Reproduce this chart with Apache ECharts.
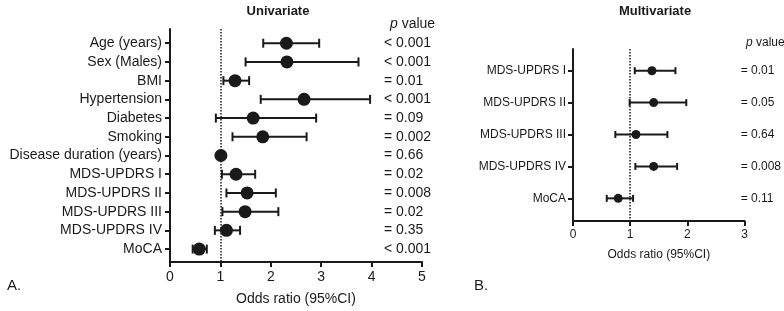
<!DOCTYPE html>
<html>
<head>
<meta charset="utf-8">
<script src="https://cdn.jsdelivr.net/npm/echarts@6/dist/echarts.min.js"></script>
<style>
  html, body { margin: 0; padding: 0; background: #fff; }
  #chart { width: 784px; height: 311px; }
</style>
</head>
<body>
<div id="chart"></div>
<script>
// Univariate (panel A)
const uniLabels = ['Age (years)', 'Sex (Males)', 'BMI', 'Hypertension', 'Diabetes', 'Smoking',
  'Disease duration (years)', 'MDS-UPDRS I', 'MDS-UPDRS II', 'MDS-UPDRS III', 'MDS-UPDRS IV', 'MoCA']
const uniOR = [2.31, 2.32, 1.29, 2.66, 1.65, 1.84, 1.01, 1.31, 1.53, 1.49, 1.12, 0.58]
const uniLow = [1.85, 1.50, 1.06, 1.80, 0.91, 1.24, 0.99, 1.03, 1.12, 1.04, 0.89, 0.45]
const uniHigh = [2.96, 3.74, 1.57, 3.97, 2.90, 2.71, 1.03, 1.69, 2.10, 2.15, 1.39, 0.73]
const uniP = ['< 0.001', '< 0.001', '= 0.01', '< 0.001', '= 0.09', '= 0.002',
  '= 0.66', '= 0.02', '= 0.008', '= 0.02', '= 0.35', '< 0.001']

// Multivariate (panel B)
const multiLabels = ['MDS-UPDRS I', 'MDS-UPDRS II', 'MDS-UPDRS III', 'MDS-UPDRS IV', 'MoCA']
const multiOR = [1.38, 1.41, 1.10, 1.41, 0.79]
const multiLow = [1.08, 0.99, 0.74, 1.09, 0.59]
const multiHigh = [1.79, 1.98, 1.65, 1.82, 1.05]
const multiP = ['= 0.01', '= 0.05', '= 0.64', '= 0.008', '= 0.11']

const font = 'Liberation Sans, Arial, sans-serif'
const ink = '#1a1a1a'

const chart = echarts.init(document.getElementById('chart'))

const rowIdx = (arr) => arr.map((_, i) => i)

// error bar with end caps, drawn through the axis scales
const whisker = (capHalf) => (params, api) => {
  const y = api.value(0)
  const a = api.coord([api.value(1), y])
  const b = api.coord([api.value(2), y])
  const st = { stroke: ink, lineWidth: 2 }
  return {
    type: 'group',
    children: [
      { type: 'line', shape: { x1: a[0], y1: a[1], x2: b[0], y2: b[1] }, style: st },
      { type: 'line', shape: { x1: a[0], y1: a[1] - capHalf, x2: a[0], y2: a[1] + capHalf }, style: st },
      { type: 'line', shape: { x1: b[0], y1: b[1] - capHalf, x2: b[0], y2: b[1] + capHalf }, style: st },
    ],
  }
}

const xAxisBase = (max, fs, gap) => ({
  type: 'value',
  min: 0,
  max: max,
  interval: 1,
  splitLine: { show: false },
  axisLine: { onZero: false, lineStyle: { color: ink, width: 2 } },
  axisTick: { length: 5, lineStyle: { color: ink, width: 2 } },
  axisLabel: { color: ink, fontSize: fs, fontFamily: font, margin: 8 },
  name: 'Odds ratio (95%CI)',
  nameLocation: 'middle',
  nameGap: gap,
  nameTextStyle: { color: ink, fontSize: fs, fontFamily: font },
})

const yLabelAxis = (grid, min, max, labels, fs, margin) => ({
  gridIndex: grid, type: 'value', inverse: true, min: min, max: max,
  splitLine: { show: false },
  axisLine: { onZero: false, lineStyle: { color: ink, width: 2 } },
  axisTick: { length: 5, lineStyle: { color: ink, width: 2 }, customValues: rowIdx(labels) },
  axisLabel: { color: ink, fontSize: fs, fontFamily: font, margin: margin,
    customValues: rowIdx(labels), formatter: (v) => labels[v] },
})

const yPAxis = (grid, min, max, pvals, fs, offset) => ({
  gridIndex: grid, type: 'value', inverse: true, min: min, max: max,
  position: 'right', offset: offset,
  splitLine: { show: false },
  axisLine: { show: false, onZero: false },
  axisTick: { show: false },
  axisLabel: { color: ink, fontSize: fs, fontFamily: font, margin: 0,
    customValues: rowIdx(pvals), formatter: (v) => pvals[v] },
})

const option = {
  animation: false,
  backgroundColor: '#fff',
  textStyle: { fontFamily: font },
  title: [
    { text: 'Univariate', left: 273, top: 0, textAlign: 'center',
      textStyle: { fontSize: 13, fontWeight: 'bold', color: ink, fontFamily: font } },
    { text: 'Multivariate', left: 650, top: 0, textAlign: 'center',
      textStyle: { fontSize: 13, fontWeight: 'bold', color: ink, fontFamily: font } },
    { text: '{i|p} value', left: 385, top: 12,
      textStyle: { fontSize: 14, fontWeight: 'normal', color: ink, fontFamily: font,
        rich: { i: { fontStyle: 'italic', fontSize: 14, color: ink, fontFamily: font } } } },
    { text: '{i|p} value', left: 741, top: 32,
      textStyle: { fontSize: 12, fontWeight: 'normal', color: ink, fontFamily: font,
        rich: { i: { fontStyle: 'italic', fontSize: 12, color: ink, fontFamily: font } } } },
    { text: 'A.', left: 2, top: 273,
      textStyle: { fontSize: 15, fontWeight: 'normal', color: ink, fontFamily: font } },
    { text: 'B.', left: 469, top: 273,
      textStyle: { fontSize: 15, fontWeight: 'normal', color: ink, fontFamily: font } },
  ],
  grid: [
    { left: 170, top: 29, width: 252, height: 234 },
    { left: 573, top: 49, width: 172, height: 172 },
  ],
  xAxis: [
    Object.assign(xAxisBase(5, 14, 30), { gridIndex: 0 }),
    Object.assign(xAxisBase(3, 12, 28), { gridIndex: 1 }),
  ],
  yAxis: [
    yLabelAxis(0, -0.76, 11.69, uniLabels, 14, 8),
    yPAxis(0, -0.76, 11.69, uniP, 14, -38),
    yLabelAxis(1, -0.68, 4.71, multiLabels, 12, 7),
    yPAxis(1, -0.68, 4.71, multiP, 12, -4),
  ],
  series: [
    {
      type: 'custom', xAxisIndex: 0, yAxisIndex: 0,
      renderItem: whisker(4.5),
      encode: { x: [1, 2], y: 0 },
      data: uniOR.map((_, i) => [i, uniLow[i], uniHigh[i]]),
      z: 2,
    },
    {
      type: 'scatter', xAxisIndex: 0, yAxisIndex: 0,
      symbolSize: 13,
      itemStyle: { color: ink, opacity: 1 },
      data: uniOR.map((v, i) => [v, i]),
      z: 3,
      markLine: {
        silent: true, symbol: 'none', label: { show: false },
        lineStyle: { type: 'dotted', color: ink, width: 1.5 },
        data: [{ xAxis: 1 }],
      },
    },
    {
      type: 'custom', xAxisIndex: 1, yAxisIndex: 2,
      renderItem: whisker(3.5),
      encode: { x: [1, 2], y: 0 },
      data: multiOR.map((_, i) => [i, multiLow[i], multiHigh[i]]),
      z: 2,
    },
    {
      type: 'scatter', xAxisIndex: 1, yAxisIndex: 2,
      symbolSize: 9,
      itemStyle: { color: ink, opacity: 1 },
      data: multiOR.map((v, i) => [v, i]),
      z: 3,
      markLine: {
        silent: true, symbol: 'none', label: { show: false },
        lineStyle: { type: 'dotted', color: ink, width: 1.5 },
        data: [{ xAxis: 1 }],
      },
    },
  ],
}

chart.setOption(option)
</script>
</body>
</html>
